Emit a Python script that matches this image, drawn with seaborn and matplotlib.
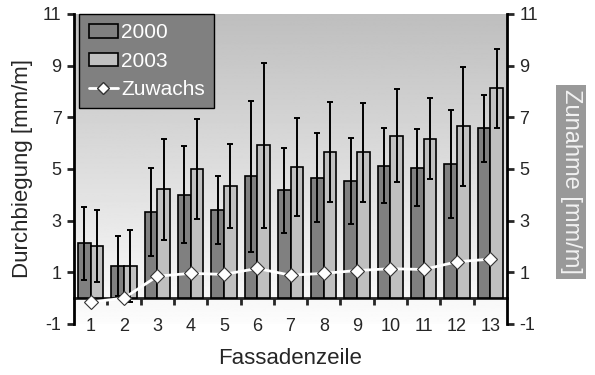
"""
Durchbiegung je Fassadenzeile 2000 vs 2003, mit Zuwachs-Linie
"""

import numpy as np
import pandas as pd
import matplotlib
matplotlib.use('Agg')
import matplotlib.pyplot as plt
from matplotlib.patches import Patch
from matplotlib.lines import Line2D
import seaborn as sns

# --- data ---
zeilen = [str(i) for i in range(1, 14)]
werte_2000 = [2.12, 1.25, 3.33, 4.01, 3.41, 4.72, 4.17, 4.67, 4.54, 5.12, 5.05, 5.21, 6.57]
werte_2003 = [2.01, 1.25, 4.21, 4.99, 4.35, 5.92, 5.08, 5.66, 5.64, 6.28, 6.18, 6.66, 8.12]
fehler_2000 = [1.40, 1.16, 1.70, 1.87, 1.33, 2.93, 1.64, 1.74, 1.66, 1.45, 1.50, 2.09, 1.31]
fehler_2003 = [1.40, 1.38, 1.96, 1.94, 1.63, 3.19, 1.90, 1.95, 1.93, 1.80, 1.58, 2.30, 1.53]
zuwachs = [-0.15, 0.00, 0.85, 0.96, 0.92, 1.15, 0.89, 0.96, 1.07, 1.14, 1.11, 1.41, 1.51]
jahre = ['2000', '2003']
y_ticks = [-1, 1, 3, 5, 7, 9, 11]

sns.set_style("white")
plt.rcParams['font.family'] = ['Liberation Sans', 'DejaVu Sans']
plt.rcParams['axes.unicode_minus'] = False

df = pd.DataFrame({
    'Zeile': zeilen * 2,
    'Wert': werte_2000 + werte_2003,
    'Fehler': fehler_2000 + fehler_2003,
    'Jahr': [jahre[0]] * len(zeilen) + [jahre[1]] * len(zeilen),
})

fig = plt.figure(figsize=(5.95, 3.75), dpi=100)
ax = fig.add_axes([0.1244, 0.136, 0.7277, 0.8267])

# gradient background (grey at top -> white at bottom)
grad = np.linspace(0.99, 0.745, 256).reshape(-1, 1)
ax.imshow(grad, cmap='gray', vmin=0, vmax=1, extent=[0, 1, 0, 1],
          transform=ax.transAxes, aspect='auto', origin='lower', zorder=0)

colors = ['#808080', '#c0c0c0']
sns.barplot(data=df, x='Zeile', y='Wert', hue='Jahr', palette=colors,
            edgecolor='black', linewidth=1.2, width=0.76, gap=0,
            errorbar=None, legend=False, ax=ax, zorder=2)

# error bars at the bar centres
bars = [p for p in ax.patches if p.get_height() > 0]
xs = [p.get_x() + p.get_width() / 2 for p in bars]
ys = [p.get_height() for p in bars]
ax.errorbar(xs, ys, yerr=df['Fehler'].values, fmt='none', ecolor='black',
            elinewidth=1.4, capsize=2.5, capthick=1.4, zorder=3)

# Zuwachs line
sns.lineplot(x=np.arange(len(zeilen)), y=zuwachs, color='white', linewidth=2,
             marker='D', markersize=7, markerfacecolor='white',
             markeredgecolor='#333333', markeredgewidth=0.8, ax=ax, zorder=4)

ax.set_xlim(-0.5, len(zeilen) - 0.5)
ax.set_ylim(-1, 11)
ax.set_yticks(y_ticks)
ax.tick_params(axis='y', direction='out', length=5, width=2, labelsize=13,
               left=True, pad=4)
ax.set_xticks(range(len(zeilen)), labels=zeilen)
ax.tick_params(axis='x', length=0, labelsize=13, pad=-4)
for s in ['top', 'bottom', 'right']:
    ax.spines[s].set_visible(False)
ax.spines['left'].set_linewidth(2)
ax.spines['left'].set_color('black')
ax.set_xlabel('Fassadenzeile', fontsize=16, labelpad=9)
ax.set_ylabel('Durchbiegung [mm/m]', fontsize=16, labelpad=7)

# x axis line at y = 0 with ticks between the rows
secax = ax.secondary_xaxis(1 / 12)
secax.set_xticks(np.arange(0.5, len(zeilen) - 1, 1.0))
secax.tick_params(direction='out', length=5, width=2, labelbottom=False)
secax.spines['bottom'].set_linewidth(2)

# right axis
ax2 = ax.twinx()
ax2.set_ylim(-1, 11)
ax2.set_yticks(y_ticks)
ax2.tick_params(axis='y', direction='out', length=5, width=2, labelsize=13,
                right=True, pad=4)
for s in ['top', 'bottom', 'left']:
    ax2.spines[s].set_visible(False)
ax2.spines['right'].set_linewidth(2)
ax2.spines['right'].set_color('black')

fig.text(0.96, 0.515, 'Zunahme [mm/m]', rotation=-90, fontsize=17,
         color='#f2f2f2', ha='center', va='center',
         bbox=dict(facecolor='#999999', edgecolor='none', pad=3))

handles = [
    Patch(facecolor=colors[0], edgecolor='black', linewidth=1.2),
    Patch(facecolor=colors[1], edgecolor='black', linewidth=1.2),
    Line2D([], [], color='white', linewidth=2, marker='D', markersize=6,
           markerfacecolor='white', markeredgecolor='#333333'),
]
leg = ax.legend(handles, ['2000', '2003', 'Zuwachs'], loc='upper left',
                bbox_to_anchor=(0.012, 1.0), borderaxespad=0, fontsize=15,
                frameon=True, fancybox=False, framealpha=1,
                facecolor='#808080', edgecolor='black', labelcolor='white',
                handlelength=1.4, handleheight=0.6, handletextpad=0.15,
                labelspacing=0.45, borderpad=0.45)
leg.get_frame().set_linewidth(1)
leg.set_zorder(10)

plt.savefig('out.png', dpi=100)
